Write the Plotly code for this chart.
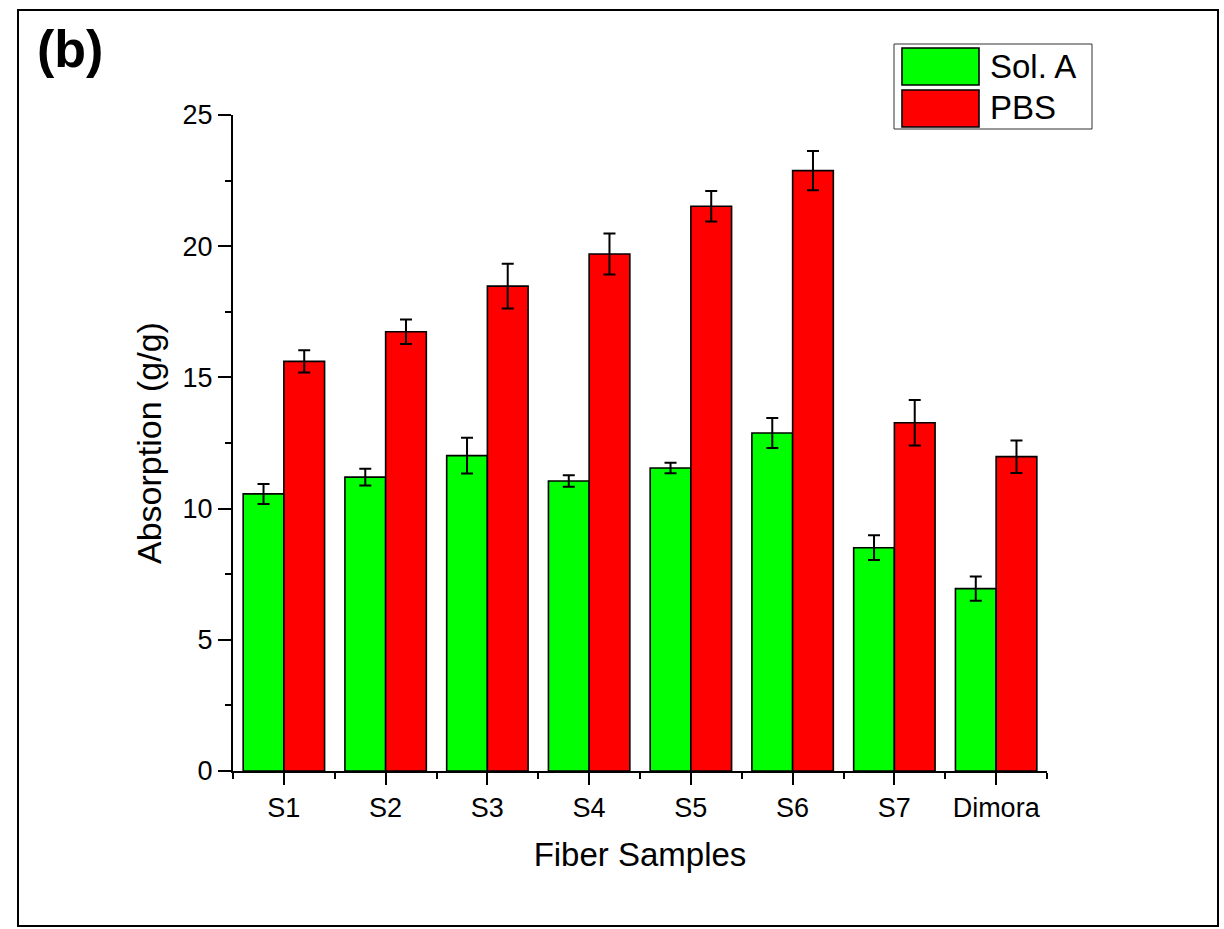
import plotly.graph_objects as go

categories = ["S1", "S2", "S3", "S4", "S5", "S6", "S7", "Dimora"]
sol_a = [10.56, 11.20, 12.02, 11.05, 11.55, 12.88, 8.51, 6.95]
sol_a_err = [0.38, 0.32, 0.68, 0.22, 0.20, 0.57, 0.47, 0.46]
pbs = [15.61, 16.74, 18.48, 19.70, 21.52, 22.88, 13.27, 11.98]
pbs_err = [0.42, 0.47, 0.85, 0.78, 0.58, 0.75, 0.87, 0.62]
series_names = ["Sol. A", "PBS"]
y_ticks = [0, 5, 10, 15, 20, 25]

FONT = "Liberation Sans, Arial, sans-serif"
GREEN = "#00ff00"
RED = "#ff0000"

xpos = list(range(len(categories)))

fig = go.Figure()
for name, vals, errs, col in [(series_names[0], sol_a, sol_a_err, GREEN),
                              (series_names[1], pbs, pbs_err, RED)]:
    fig.add_trace(go.Bar(
        x=xpos, y=vals, name=name,
        marker=dict(color=col, line=dict(color="black", width=1.6)),
        error_y=dict(type="data", array=errs, visible=True,
                     color="black", thickness=2, width=6),
        showlegend=False,
    ))

# plot-area pixel geometry
L, R, T, B = 233, 1047, 115, 771
W, H = R - L, B - T


def px(xp):
    return (xp - L) / W


def py(yp):
    return (B - yp) / H


shapes = [
    # outer frame
    dict(type="rect", xref="paper", yref="paper",
         x0=px(18), x1=px(1218), y0=py(926), y1=py(10),
         line=dict(color="black", width=2), fillcolor="rgba(0,0,0,0)", layer="below"),
    # legend box
    dict(type="rect", xref="paper", yref="paper",
         x0=px(894), x1=px(1092), y0=py(129), y1=py(44),
         line=dict(color="#333333", width=1), fillcolor="white"),
    dict(type="rect", xref="paper", yref="paper",
         x0=px(902), x1=px(979), y0=py(85), y1=py(48),
         line=dict(color="black", width=1.6), fillcolor=GREEN),
    dict(type="rect", xref="paper", yref="paper",
         x0=px(902), x1=px(979), y0=py(127), y1=py(90),
         line=dict(color="black", width=1.6), fillcolor=RED),
]

annotations = [
    dict(text="<b>(b)</b>", xref="paper", yref="paper", x=px(70), y=py(49),
         xanchor="center", yanchor="middle", showarrow=False,
         font=dict(family=FONT, size=52, color="black")),
    dict(text=series_names[0], xref="paper", yref="paper", x=px(988), y=py(67),
         xanchor="left", yanchor="middle", showarrow=False,
         font=dict(family=FONT, size=33, color="black")),
    dict(text=series_names[1], xref="paper", yref="paper", x=px(988), y=py(108),
         xanchor="left", yanchor="middle", showarrow=False,
         font=dict(family=FONT, size=33, color="black")),
]

fig.update_layout(
    width=1224, height=929,
    margin=dict(l=L, r=1224 - R, t=T, b=929 - B, pad=0),
    paper_bgcolor="white", plot_bgcolor="white",
    barmode="group", bargap=0.2, bargroupgap=0.0,
    font=dict(family=FONT, color="black"),
    shapes=shapes, annotations=annotations,
    showlegend=False,
)

fig.update_xaxes(
    range=[-0.5, 7.5], tickmode="array", tickvals=xpos, ticktext=categories,
    showline=True, linecolor="black", linewidth=2, mirror=False,
    ticks="outside", ticklen=12, tickwidth=2, tickcolor="black",
    tickfont=dict(family=FONT, size=27, color="black"),
    minor=dict(tickmode="linear", tick0=-0.5, dtick=1, ticks="outside",
               ticklen=6, tickwidth=2, tickcolor="black", showgrid=False),
    showgrid=False, zeroline=False,
    title=dict(text="Fiber Samples", font=dict(family=FONT, size=33, color="black"),
               standoff=20),
)
fig.update_yaxes(
    range=[0, 25], tickmode="array", tickvals=y_ticks,
    showline=True, linecolor="black", linewidth=2, mirror=False,
    ticks="outside", ticklen=13, tickwidth=2, tickcolor="black",
    tickfont=dict(family=FONT, size=27, color="black"),
    minor=dict(tickmode="linear", tick0=0, dtick=2.5, ticks="outside",
               ticklen=6, tickwidth=2, tickcolor="black", showgrid=False),
    showgrid=False, zeroline=False,
    title=dict(text="Absorption (g/g)", font=dict(family=FONT, size=34, color="black"),
               standoff=11),
)

fig.write_html("out.html")
